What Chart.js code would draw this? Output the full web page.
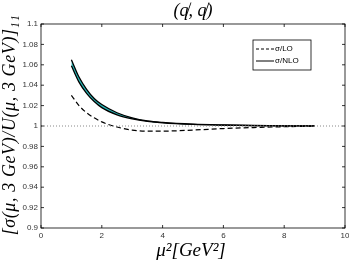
<!DOCTYPE html>
<html>
<head>
<meta charset="utf-8">
<script src="https://cdn.jsdelivr.net/npm/chart.js@4"></script>
<style>
  html, body { margin: 0; padding: 0; background: #fff; }
  #wrap { width: 349px; height: 263px; }
</style>
</head>
<body>
<div id="wrap"><canvas id="chart" width="349" height="263"></canvas></div>
<script>
// datos
const muSq = [1, 1.25, 1.5, 1.75, 2, 2.5, 3, 3.5, 4, 5, 6, 7, 8, 9];
const nloUpper = [1.065, 1.048, 1.036, 1.027, 1.021, 1.013, 1.008, 1.005, 1.0035, 1.0018, 1.001, 1.0005, 1.0002, 1.0001];
const nloLower = [1.059, 1.043, 1.032, 1.024, 1.018, 1.011, 1.007, 1.0045, 1.003, 1.0015, 1.0008, 1.0004, 1.0002, 1.0001];
const loRatio = [1.030, 1.020, 1.013, 1.008, 1.004, 0.999, 0.996, 0.995, 0.995, 0.996, 0.9975, 0.9985, 0.9993, 0.9998];
const refX = [0, 10];
const refY = [1, 1];
const xTicks = [0, 2, 4, 6, 8, 10];
const yTicks = [0.9, 0.92, 0.94, 0.96, 0.98, 1, 1.02, 1.04, 1.06, 1.08, 1.1];

const pts = (xs, ys) => xs.map((x, i) => ({ x: x, y: ys[i] }));

// marco, marcas internas, titulos y leyenda estilo matlab
const framePlugin = {
    id: 'frame',
    afterDraw(chart) {
        const ctx = chart.ctx;
        const a = chart.chartArea;
        const xs = chart.scales.x, ys = chart.scales.y;
        ctx.save();
        ctx.strokeStyle = '#000';
        ctx.lineWidth = 0.8;
        ctx.strokeRect(a.left, a.top, a.right - a.left, a.bottom - a.top);
        ctx.beginPath();
        xTicks.forEach(t => {
            const p = xs.getPixelForValue(t);
            ctx.moveTo(p, a.bottom); ctx.lineTo(p, a.bottom - 3);
            ctx.moveTo(p, a.top); ctx.lineTo(p, a.top + 3);
        });
        yTicks.forEach(t => {
            const p = ys.getPixelForValue(t);
            ctx.moveTo(a.left, p); ctx.lineTo(a.left + 3, p);
            ctx.moveTo(a.right, p); ctx.lineTo(a.right - 3, p);
        });
        ctx.stroke();

        // titulo
        ctx.fillStyle = '#000';
        ctx.font = 'italic 18px "Liberation Serif"';
        ctx.textAlign = 'center';
        ctx.textBaseline = 'middle';
        ctx.fillText('(q\u0338, q\u0338)', (a.left + a.right) / 2, 11);

        // titulos de ejes
        ctx.font = 'italic 19px "Liberation Serif"';
        ctx.fillText('\u03bc\u00b2[GeV\u00b2]', (a.left + a.right) / 2 - 2, 251);
        ctx.save();
        ctx.translate(10, 125);
        ctx.rotate(-Math.PI / 2);
        ctx.font = 'italic 18px "Liberation Serif"';
        ctx.letterSpacing = '0.6px';
        ctx.fillText('[\u03c3(\u03bc, 3 GeV)/U(\u03bc, 3 GeV)]\u2081\u2081', 0, 0);
        ctx.restore();

        // leyenda
        const lx = 253, ly = 40, lw = 58, lh = 30;
        ctx.fillStyle = '#fff';
        ctx.fillRect(lx, ly, lw, lh);
        ctx.lineWidth = 0.8;
        ctx.strokeRect(lx, ly, lw, lh);
        ctx.lineWidth = 1;
        ctx.setLineDash([3, 2]);
        ctx.beginPath();
        ctx.moveTo(lx + 3, ly + 9); ctx.lineTo(lx + 21, ly + 9);
        ctx.stroke();
        ctx.setLineDash([]);
        ctx.beginPath();
        ctx.moveTo(lx + 3, ly + 21); ctx.lineTo(lx + 21, ly + 21);
        ctx.stroke();
        ctx.fillStyle = '#000';
        ctx.font = '8px "Liberation Sans"';
        ctx.textAlign = 'left';
        ctx.fillText('\u03c3/LO', lx + 22, ly + 9);
        ctx.fillText('\u03c3/NLO', lx + 22, ly + 21);
        ctx.restore();
    }
};

const ctx = document.getElementById('chart').getContext('2d');
new Chart(ctx, {
    type: 'line',
    data: {
        datasets: [
            {
                label: 'ref',
                data: pts(refX, refY),
                borderColor: '#888',
                borderWidth: 1,
                borderDash: [1, 2],
                pointRadius: 0,
                fill: false
            },
            {
                label: '\u03c3/LO',
                data: pts(muSq, loRatio),
                borderColor: '#000',
                borderWidth: 1.2,
                borderDash: [5, 3],
                pointRadius: 0,
                cubicInterpolationMode: 'monotone',
                fill: false
            },
            {
                label: '\u03c3/NLO',
                data: pts(muSq, nloUpper),
                borderColor: '#000',
                borderWidth: 1.3,
                pointRadius: 0,
                cubicInterpolationMode: 'monotone',
                fill: false
            },
            {
                label: '\u03c3/NLO low',
                data: pts(muSq, nloLower),
                borderColor: '#000',
                borderWidth: 1.3,
                pointRadius: 0,
                cubicInterpolationMode: 'monotone',
                backgroundColor: 'rgb(40, 185, 185)',
                fill: '-1'
            }
        ]
    },
    options: {
        responsive: false,
        animation: false,
        layout: { padding: { top: 24, right: 4 } },
        plugins: {
            legend: { display: false },
            tooltip: { enabled: false }
        },
        scales: {
            x: {
                type: 'linear',
                min: 0,
                max: 10,
                afterBuildTicks: s => { s.ticks = xTicks.map(v => ({ value: v })); },
                afterFit: s => { s.height = 35; s.paddingLeft = 0; s.paddingRight = 0; },
                grid: { display: false, drawTicks: false, tickLength: 0 },
                border: { display: false },
                ticks: {
                    color: '#333',
                    font: { family: 'Liberation Sans', size: 8 },
                    padding: 3,
                    maxRotation: 0
                }
            },
            y: {
                type: 'linear',
                min: 0.9,
                max: 1.1,
                afterBuildTicks: s => { s.ticks = yTicks.map(v => ({ value: v })); },
                afterFit: s => { s.width = 41; s.paddingTop = 0; s.paddingBottom = 0; },
                grid: { display: false, drawTicks: false, tickLength: 0 },
                border: { display: false },
                ticks: {
                    color: '#333',
                    font: { family: 'Liberation Sans', size: 8 },
                    padding: 3,
                    callback: v => String(parseFloat(v.toFixed(2)))
                }
            }
        }
    },
    plugins: [framePlugin]
});
</script>
</body>
</html>
